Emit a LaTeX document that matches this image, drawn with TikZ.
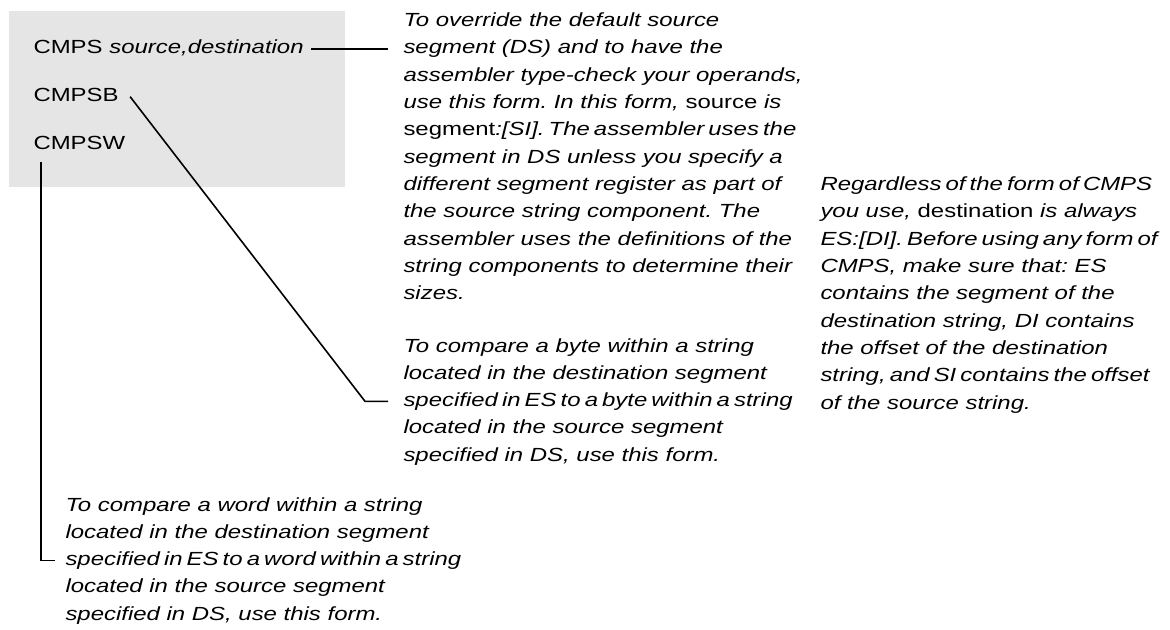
\documentclass[tikz,border=0pt]{standalone}
\usepackage{fontspec}
\setmainfont{Liberation Sans}
\frenchspacing
\newcommand{\apretado}{\spaceskip=0.17em\relax}
\begin{document}
\begin{tikzpicture}[x=0.5pt,y=-0.5pt]
        %colores
        \colorlet{fondo}{black!10}
        \tikzset{texto/.style={inner sep=0pt,anchor=base west,xscale=1.26,font=\fontsize{9.5}{11}\selectfont},
                 nota/.style={texto,font=\fontsize{9.5}{11}\selectfont\itshape},
                 linea/.style={line width=0.8pt}}
        \useasboundingbox (0,0) rectangle (1170,630);

        % Recuadro gris con las formas
        \fill[fondo] (9,11) rectangle (345,187);
        \node[texto] (cmps) at (33,54) {CMPS \textit{source,destination}};
        \node[texto] (cmpsb) at (33,102) {CMPSB};
        \node[texto] (cmpsw) at (33,150) {CMPSW};

        % Notas, linea por linea
        \foreach \n/\txt in {1/{To override the default source},2/{segment (DS) and to have the},
            3/{assembler type-check your operands,},4/{use this form. In this form, \textup{source} is},
            5/{\apretado\textup{segment}:[SI]. The assembler uses the},6/{segment in DS unless you specify a},
            7/{different segment register as part of},8/{the source string component. The},
            9/{assembler uses the definitions of the},10/{string components to determine their},11/{sizes.}}
        \node[nota] (ovr-\n) at (403,{26.7+27.3*(\n-1)}) {\txt};

        \foreach \n/\txt in {1/{To compare a byte within a string},2/{located in the destination segment},
            3/{\apretado specified in ES to a byte within a string},4/{located in the source segment},5/{specified in DS, use this form.}}
        \node[nota] (byte-\n) at (403,{352+27.3*(\n-1)}) {\txt};

        \foreach \n/\txt in {1/{To compare a word within a string},2/{located in the destination segment},
            3/{\apretado specified in ES to a word within a string},4/{located in the source segment},5/{specified in DS, use this form.}}
        \node[nota] (word-\n) at (65,{511+27.3*(\n-1)}) {\txt};

        \foreach \n/\txt in {1/{\apretado Regardless of the form of CMPS},2/{you use, \textup{destination} is always},
            3/{\apretado ES:[DI]. Before using any form of},4/{CMPS, make sure that: ES},5/{contains the segment of the},
            6/{destination string, DI contains},7/{the offset of the destination},8/{\apretado string, and SI contains the offset},
            9/{of the source string.}}
        \node[nota] (reg-\n) at (820,{190.7+27.3*(\n-1)}) {\txt};

        % Lineas de llamada
        \draw[linea] ([xshift=3.5pt]cmps.mid east) -- ([xshift=-7.5pt]ovr-2.mid west);
        \draw[linea] ([xshift=5.5pt]cmpsb.mid east) -- ([xshift=-19pt]byte-3.mid west) -- ([xshift=-7.5pt]byte-3.mid west);
        \draw[linea] ([shift={(4pt,-5.5pt)}]cmpsw.south west) |- ([xshift=-5pt]word-3.mid west);
    \end{tikzpicture}
\end{document}
